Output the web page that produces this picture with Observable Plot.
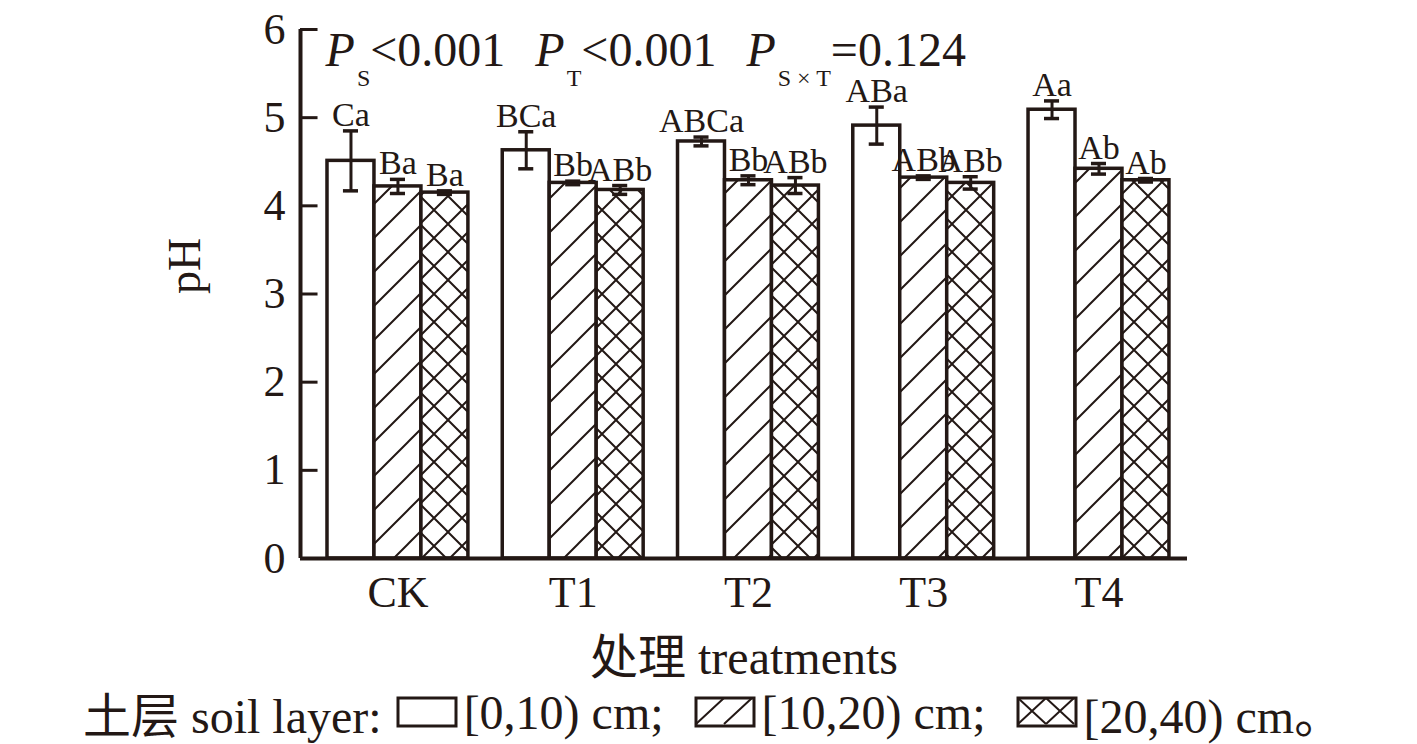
<!DOCTYPE html>
<html>
<head>
<meta charset="utf-8">
<script src="https://cdn.jsdelivr.net/npm/d3@7"></script>
<script src="https://cdn.jsdelivr.net/npm/@observablehq/plot@0.6"></script>
<style>
  html, body { margin: 0; padding: 0; background: #fff; }
  body { width: 1417px; height: 744px; overflow: hidden; font-family: "Liberation Serif", "Noto Sans CJK SC", serif; color: #231815; }
  #legend { display: flex; align-items: center; height: 64px; padding-left: 83px; font-size: 48px; white-space: pre; }
  #legend svg { display: block; }
</style>
</head>
<body>
<div id="chart"></div>
<div id="legend"></div>
<script>
// ---- data ----
const treatments = ["CK", "T1", "T2", "T3", "T4"];
const layers = ["[0,10) cm", "[10,20) cm", "[20,40) cm"];
const mean0_10 = [4.51, 4.63, 4.73, 4.91, 5.09];
const mean10_20 = [4.22, 4.26, 4.29, 4.32, 4.42];
const mean20_40 = [4.15, 4.18, 4.23, 4.26, 4.29];
const err0_10 = [0.34, 0.21, 0.05, 0.21, 0.10];
const err10_20 = [0.08, 0.02, 0.05, 0.02, 0.06];
const err20_40 = [0.02, 0.05, 0.09, 0.07, 0.02];
const letters0_10 = ["Ca", "BCa", "ABCa", "ABa", "Aa"];
const letters10_20 = ["Ba", "Bb", "Bb", "ABb", "Ab"];
const letters20_40 = ["Ba", "ABb", "ABb", "ABb", "Ab"];
const yTicks = [0, 1, 2, 3, 4, 5, 6];
const pSubs = ["S", "T", "S × T"];
const pVals = ["<0.001", "<0.001", "=0.124"];
const xLabel = "处理 treatments";
const yLabel = "pH";
const legendTitle = "土层 soil layer:";

// ---- build table ----
const means = [mean0_10, mean10_20, mean20_40];
const errs = [err0_10, err10_20, err20_40];
const letters = [letters0_10, letters10_20, letters20_40];
const rows = treatments.flatMap((t, i) => layers.map((l, j) => ({
  t, i, j, layer: l, mean: means[j][i], err: errs[j][i], letter: letters[j][i]
})));

const ink = "#231815";
const barW = 0.268;
const groupW = barW * layers.length;
const capW = 0.043;
const xDomain = [-0.556, 4.505];
const left = d => d.i - groupW / 2 + d.j * barW;
const center = d => left(d) + barW / 2;
const fills = ["#ffffff", "url(#hatchP)", "url(#crossP)"];

const plot = Plot.plot({
  width: 1417,
  height: 680,
  marginLeft: 300,
  marginRight: 230,
  marginTop: 29,
  marginBottom: 122,
  style: { fontFamily: "'Liberation Serif', 'Noto Sans CJK SC', serif", color: ink, background: "#fff", overflow: "visible" },
  x: { domain: xDomain, axis: null },
  y: { domain: [0, 6], axis: null },
  marks: [
    ...layers.map((l, k) => Plot.rectY(rows.filter(d => d.j === k), {
      x1: left, x2: d => left(d) + barW, y1: 0, y2: "mean",
      fill: fills[k], stroke: ink, strokeWidth: 3.5
    })),
    Plot.ruleX(rows, { x: center, y1: d => d.mean - d.err, y2: d => d.mean + d.err, stroke: ink, strokeWidth: 3 }),
    Plot.ruleY(rows, { y: d => d.mean + d.err, x1: d => center(d) - capW, x2: d => center(d) + capW, stroke: ink, strokeWidth: 3.5 }),
    Plot.ruleY(rows, { y: d => d.mean - d.err, x1: d => center(d) - capW, x2: d => center(d) + capW, stroke: ink, strokeWidth: 3.5 }),
    Plot.text(rows, { x: center, y: d => d.mean + d.err, text: "letter", dy: -5, lineAnchor: "bottom", fontSize: 34, fill: ink }),
    // axes lines
    Plot.ruleY([0], { stroke: ink, strokeWidth: 4 }),
    Plot.ruleX([xDomain[0]], { y1: 0, y2: 6, stroke: ink, strokeWidth: 4 }),
    Plot.ruleY(yTicks, { x1: xDomain[0], x2: xDomain[0] + 0.1, stroke: ink, strokeWidth: 3 }),
    Plot.axisY({ ticks: yTicks, tickFormat: d => String(d), tickSize: 0, tickPadding: 15, fontSize: 44, label: null, fill: ink }),
    Plot.axisX({ ticks: treatments.map((t, i) => i), tickFormat: i => treatments[i], tickSize: 0, tickPadding: 17, fontSize: 44, label: null, fill: ink }),
    Plot.text([xLabel], { text: d => d, frameAnchor: "bottom", dy: 100, fontSize: 48, lineAnchor: "middle", fill: ink }),
    Plot.text([yLabel], { text: d => d, frameAnchor: "left", dx: -115, rotate: -90, fontSize: 46, lineAnchor: "middle", fill: ink })
  ]
});

document.getElementById("chart").appendChild(plot);

// patterns
const svg = d3.select(plot);
const defs = svg.insert("defs", ":first-child");
const hp = defs.append("pattern").attr("id", "hatchP").attr("patternUnits", "userSpaceOnUse").attr("width", 34).attr("height", 34);
hp.append("rect").attr("width", 34).attr("height", 34).attr("fill", "#fff");
hp.append("path").attr("d", "M-8,8L8,-8M0,34L34,0M26,42L42,26").attr("stroke", ink).attr("stroke-width", 2);
const cp = defs.append("pattern").attr("id", "crossP").attr("patternUnits", "userSpaceOnUse").attr("width", 28).attr("height", 28);
cp.append("rect").attr("width", 28).attr("height", 28).attr("fill", "#fff");
cp.append("path").attr("d", "M0,28L28,0M-7,7L7,-7M21,35L35,21M0,0L28,28M-7,21L7,35M21,-7L35,7").attr("stroke", ink).attr("stroke-width", 2);

// significance annotation
const xs = plot.scale("x"), ys = plot.scale("y");
const ann = svg.append("text")
  .attr("x", xs.apply(-0.41)).attr("y", ys.apply(5.58))
  .attr("text-anchor", "start")
  .attr("font-size", 48).attr("fill", ink)
  .style("white-space", "pre");
pSubs.forEach((s, k) => {
  ann.append("tspan").attr("font-style", "italic").attr("dx", k === 0 ? 0 : 6).text("P");
  ann.append("tspan").attr("font-size", 24).attr("dy", 20).attr("dx", 2).text(s);
  ann.append("tspan").attr("dy", -20).text(pVals[k] + (k < pSubs.length - 1 ? "  " : ""));
});

// legend
const leg = d3.select("#legend");
leg.append("span").text(legendTitle).style("margin-right", "14px");
const swatchPaths = [
  "",
  "M2,28L30,2M30,28L58,2",
  "M2,2L30,28M2,28L30,2M30,2L58,28M30,28L58,2"
];
layers.forEach((l, k) => {
  const s = leg.append("svg").attr("width", 62).attr("height", 32).style("margin-right", "6px");
  s.append("rect").attr("x", 2).attr("y", 2).attr("width", 58).attr("height", 28).attr("fill", "#fff").attr("stroke", ink).attr("stroke-width", 3);
  if (swatchPaths[k]) s.append("path").attr("d", swatchPaths[k]).attr("stroke", ink).attr("stroke-width", 2).attr("fill", "none");
  leg.append("span").text(l + (k < layers.length - 1 ? ";" : "。")).style("margin-right", k < layers.length - 1 ? "30px" : "0");
});
</script>
</body>
</html>
